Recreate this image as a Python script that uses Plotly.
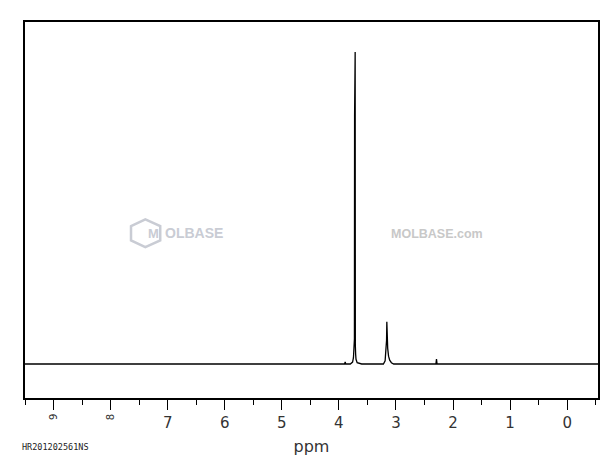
import plotly.graph_objects as go

# Spectrum trace points (ppm, relative intensity)
ppm = [9.50, 7.60, 7.55, 3.95, 3.90, 3.89, 3.88, 3.80, 3.76, 3.745, 3.735, 3.728,
       3.725, 3.722, 3.718, 3.715, 3.712, 3.706, 3.70, 3.68, 3.60,
       3.22, 3.19, 3.175, 3.165, 3.160, 3.155, 3.150, 3.145, 3.13, 3.11, 3.08, 3.04,
       2.32, 2.30, 2.29, 2.28, 2.26, -0.54]
intensity = [0.0, 0.0, 0.0, 0.0, 0.0, 0.007, 0.0, 0.0, 0.006, 0.02, 0.075, 0.08,
             0.795, 0.07, 0.08, 1.0, 0.06, 0.03, 0.015, 0.004, 0.0,
             0.0, 0.01, 0.05, 0.075, 0.135, 0.07, 0.09, 0.05, 0.025, 0.012, 0.004, 0.0,
             0.0, 0.0, 0.016, 0.0, 0.0, 0.0]

tick_vals = [0, 1, 2, 3, 4, 5, 6, 7, 8, 9]
tick_labels = ["0", "1", "2", "3", "4", "5", "6", "7", "8", "9"]
rotated_labels = ["8", "9"]

x_title = "ppm"
sample_id = "HR201202561NS"

fig = go.Figure()
fig.add_trace(go.Scatter(x=ppm, y=intensity, mode="lines",
                         line=dict(color="black", width=1.3), hoverinfo="skip"))

ticktext = ["" if t in rotated_labels else t for t in tick_labels]

# the page places the figure 8px from the top-left corner
fig.update_layout(
    width=604, height=457,
    margin=dict(l=17, r=13, t=14, b=59),
    paper_bgcolor="white", plot_bgcolor="white",
    showlegend=False,
    font=dict(family="DejaVu Sans", color="black"),
    xaxis=dict(range=[9.5, -0.54], showgrid=False, zeroline=False,
               showline=True, mirror=True, linecolor="black", linewidth=1.5,
               ticks="outside", ticklen=10, tickwidth=1, tickcolor="black",
               tickvals=tick_vals, ticktext=ticktext,
               tickfont=dict(size=15, color="#333", family="DejaVu Sans"),
               minor=dict(ticks="outside", ticklen=5, dtick=0.5, tick0=0,
                          tickcolor="black", tickwidth=1, showgrid=False),
               title=dict(text=x_title, font=dict(size=16, color="#333"), standoff=10)),
    yaxis=dict(range=[-0.109, 1.096], showgrid=False, zeroline=False,
               showline=True, mirror=True, linecolor="black", linewidth=1.5,
               showticklabels=False, ticks=""),
)

for lab in rotated_labels:
    fig.add_annotation(x=float(lab), y=-0.052, xref="x", yref="paper",
                       text=lab, textangle=-90, showarrow=False,
                       yanchor="middle", xanchor="center",
                       font=dict(size=10, color="#333"))

fig.add_annotation(x=0.0, y=-0.13, xref="paper", yref="paper",
                   text=sample_id, showarrow=False, xanchor="left", yanchor="middle",
                   xshift=-5,
                   font=dict(size=8.5, family="DejaVu Sans Mono", color="#222"))

# Watermarks
fig.add_shape(type="path", xref="paper", yref="paper",
              path="M 0.185,0.457 L 0.21,0.475 L 0.236,0.457 L 0.236,0.419 L 0.21,0.401 L 0.185,0.419 Z",
              line=dict(color="#c9ccd4", width=2.5), fillcolor="rgba(0,0,0,0)")
fig.add_annotation(x=0.2105, y=0.438, xref="paper", yref="paper", text="<b>M</b>",
                   showarrow=False, font=dict(size=13, color="#c9ccd4", family="Liberation Sans"))
fig.add_annotation(x=0.24, y=0.438, xref="paper", yref="paper", text="<b>OLBASE</b>",
                   showarrow=False, xanchor="left",
                   font=dict(size=14, color="#c9ccd4", family="Liberation Sans"))
fig.add_annotation(x=0.635, y=0.437, xref="paper", yref="paper", text="<b>MOLBASE.com</b>",
                   showarrow=False, xanchor="left",
                   font=dict(size=12.5, color="#c8c8c8", family="Liberation Sans"))

fig.write_html("out.html")
